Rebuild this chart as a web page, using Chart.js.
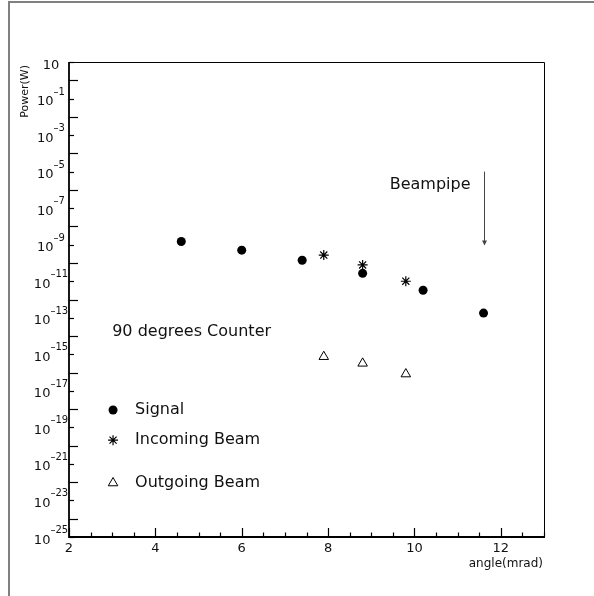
<!DOCTYPE html>
<html>
<head>
<meta charset="utf-8">
<script src="https://cdn.jsdelivr.net/npm/chart.js@4.4.1/dist/chart.umd.min.js"></script>
<style>
  html, body { margin: 0; padding: 0; background: #fff; }
  #wrap { position: relative; width: 594px; height: 596px; overflow: hidden; }
  #frame { position: absolute; left: 8px; top: 1px; width: 800px; height: 800px;
           border-left: 2px solid #808080; border-top: 2px solid #808080; }
  #c { position: absolute; left: 0; top: 0; }
</style>
</head>
<body>
<div id="wrap">
  <div id="frame"></div>
  <canvas id="c" width="594" height="596"></canvas>
</div>
<script>
// Measured power versus angle
const signalAngle   = [4.6, 6.0, 7.4, 8.8, 10.2, 11.6];
const signalPower   = [1.5e-9, 5.0e-10, 1.4e-10, 2.7e-11, 3.2e-12, 1.8e-13];
const incomingAngle = [7.9, 8.8, 9.8];
const incomingPower = [2.7e-10, 7.8e-11, 1.0e-11];
const outgoingAngle = [7.9, 8.8, 9.8];
const outgoingPower = [7.4e-16, 3.2e-16, 8.3e-17];

// Axis ranges and labels
const xMin = 2, xMax = 13;
const xLabelValues = [2, 4, 6, 8, 10, 12];
const yMinExp = -25, yMaxExp = 1;
const yLabelExps = [1, -1, -3, -5, -7, -9, -11, -13, -15, -17, -19, -21, -23, -25];

// Legend entries and notes placed in data coordinates
const legendNames = ['Signal', 'Incoming Beam', 'Outgoing Beam'];
const legendStyles = ['circle', 'star', 'triangle'];
const legendPower = [9e-19, 2e-20, 9e-23];
const legendAngle = 3.02, legendTextAngle = 3.53;
const counterNote = '90 degrees Counter';
const counterAngle = 3.0, counterPower = 1.7e-14;
const pipeNote = 'Beampipe';
const pipeAngle = 11.6, pipeTop = 1e-5, pipeTip = 9e-10, pipeNotePower = 1.9e-6;

const FONT = '"DejaVu Sans", "Liberation Sans", sans-serif';
const INK = '#111';

function pts(xs, ys) { return xs.map((x, i) => ({ x: x, y: ys[i] })); }

const markerSpec = {
  circle:   { radius: 4.5, fill: '#000', stroke: '#000', width: 0 },
  star:     { radius: 5,   fill: 'rgba(0,0,0,0)', stroke: '#000', width: 1.2 },
  triangle: { radius: 5.5, fill: 'rgba(0,0,0,0)', stroke: '#000', width: 1 }
};

function drawMarker(ctx, style, x, y) {
  const s = markerSpec[style];
  ctx.save();
  ctx.fillStyle = s.fill;
  ctx.strokeStyle = s.stroke;
  ctx.lineWidth = s.width;
  Chart.helpers.drawPoint(ctx, { pointStyle: style, radius: s.radius, borderWidth: s.width, rotation: 0 }, x, y);
  ctx.restore();
}

const pawAxes = {
  id: 'pawAxes',
  beforeDatasetsDraw(chart) {
    const { ctx, chartArea: a, scales: { x: xs, y: ys } } = chart;
    ctx.save();
    ctx.strokeStyle = '#000';
    // frame
    ctx.lineWidth = 1;
    ctx.beginPath();
    ctx.moveTo(a.left, a.top + 0.5); ctx.lineTo(a.right + 0.5, a.top + 0.5);
    ctx.lineTo(a.right + 0.5, a.bottom);
    ctx.stroke();
    ctx.lineWidth = 1.8;
    ctx.beginPath();
    ctx.moveTo(a.left, a.top); ctx.lineTo(a.left, a.bottom); ctx.lineTo(a.right + 1, a.bottom);
    ctx.stroke();

    // x ticks, every 0.5, longer at labelled values
    ctx.lineWidth = 1.2;
    for (let v = xMin; v <= xMax + 1e-9; v += 0.5) {
      const px = Math.round(xs.getPixelForValue(v)) + 0.5;
      const len = xLabelValues.includes(v) ? 9 : 4.5;
      ctx.beginPath();
      ctx.moveTo(px, a.bottom); ctx.lineTo(px, a.bottom - len);
      ctx.stroke();
    }
    // y ticks, one per decade
    for (let e = yMinExp; e <= yMaxExp; e++) {
      const py = Math.round(ys.getPixelForValue(Math.pow(10, e))) + 0.5;
      const len = (e % 2 === 0) ? 9 : 5;
      ctx.beginPath();
      ctx.moveTo(a.left, py); ctx.lineTo(a.left + len, py);
      ctx.stroke();
    }

    // x labels
    ctx.fillStyle = INK;
    ctx.font = '13px ' + FONT;
    ctx.textAlign = 'center';
    ctx.textBaseline = 'middle';
    xLabelValues.forEach(v => {
      ctx.fillText(String(v), xs.getPixelForValue(v), a.bottom + 12);
    });

    // y labels: 10 with raised exponent
    yLabelExps.forEach(e => {
      const py = ys.getPixelForValue(Math.pow(10, e));
      const base = '10';
      const sup = e === 1 ? '' : '\u2013' + Math.abs(e);
      ctx.font = '13px ' + FONT;
      const wb = ctx.measureText(base).width;
      ctx.font = '10px ' + FONT;
      const ws = sup ? ctx.measureText(sup).width : 0;
      const cx = 51;
      const x0 = cx - (wb + ws) / 2;
      ctx.textAlign = 'left';
      ctx.textBaseline = 'alphabetic';
      ctx.font = '13px ' + FONT;
      ctx.fillText(base, x0, py + 6.5);
      if (sup) {
        ctx.font = '10px ' + FONT;
        ctx.fillText(sup, x0 + wb, py - 4);
      }
    });

    // axis titles
    ctx.font = '12px ' + FONT;
    ctx.textAlign = 'right';
    ctx.textBaseline = 'middle';
    ctx.fillText('angle(mrad)', a.right - 1, a.bottom + 27);
    ctx.save();
    ctx.translate(25, a.top + 3);
    ctx.rotate(-Math.PI / 2);
    ctx.font = '11px ' + FONT;
    ctx.textAlign = 'right';
    ctx.fillText('Power(W)', 0, 0);
    ctx.restore();
    ctx.restore();
  },
  afterDatasetsDraw(chart) {
    const { ctx, scales: { x: xs, y: ys } } = chart;
    ctx.save();
    ctx.fillStyle = INK;
    ctx.font = '16px ' + FONT;
    ctx.textBaseline = 'middle';

    // note text
    ctx.textAlign = 'left';
    ctx.fillText(counterNote, xs.getPixelForValue(counterAngle), ys.getPixelForValue(counterPower));

    // beampipe arrow
    const ax = Math.round(xs.getPixelForValue(pipeAngle)) + 0.5;
    const ay0 = ys.getPixelForValue(pipeTop);
    const ay1 = ys.getPixelForValue(pipeTip);
    ctx.strokeStyle = '#444';
    ctx.fillStyle = '#444';
    ctx.lineWidth = 1;
    ctx.beginPath();
    ctx.moveTo(ax, ay0); ctx.lineTo(ax, ay1 - 3);
    ctx.stroke();
    ctx.beginPath();
    ctx.moveTo(ax - 2.5, ay1 - 5); ctx.lineTo(ax + 2.5, ay1 - 5); ctx.lineTo(ax, ay1);
    ctx.closePath();
    ctx.fill();
    ctx.fillStyle = INK;
    ctx.textAlign = 'right';
    ctx.fillText(pipeNote, ax - 14, ys.getPixelForValue(pipeNotePower));

    // legend
    ctx.textAlign = 'left';
    legendNames.forEach((name, i) => {
      const py = ys.getPixelForValue(legendPower[i]);
      drawMarker(ctx, legendStyles[i], xs.getPixelForValue(legendAngle), py);
      ctx.fillStyle = INK;
      ctx.font = '16px ' + FONT;
      ctx.fillText(name, xs.getPixelForValue(legendTextAngle), py);
    });
    ctx.restore();
  }
};

new Chart(document.getElementById('c'), {
  type: 'scatter',
  data: {
    datasets: [
      { label: 'Signal', data: pts(signalAngle, signalPower),
        pointStyle: 'circle', pointRadius: markerSpec.circle.radius,
        backgroundColor: '#000', borderColor: '#000', borderWidth: 0 },
      { label: 'Incoming Beam', data: pts(incomingAngle, incomingPower),
        pointStyle: 'star', pointRadius: markerSpec.star.radius,
        backgroundColor: 'rgba(0,0,0,0)', borderColor: '#000', borderWidth: markerSpec.star.width },
      { label: 'Outgoing Beam', data: pts(outgoingAngle, outgoingPower),
        pointStyle: 'triangle', pointRadius: markerSpec.triangle.radius,
        backgroundColor: 'rgba(0,0,0,0)', borderColor: '#000', borderWidth: markerSpec.triangle.width }
    ]
  },
  options: {
    responsive: false,
    animation: false,
    events: [],
    layout: { padding: { left: 69, top: 62, right: 50, bottom: 59 } },
    plugins: { legend: { display: false }, tooltip: { enabled: false } },
    scales: {
      x: { type: 'linear', min: xMin, max: xMax, display: false },
      y: { type: 'logarithmic', min: Math.pow(10, yMinExp), max: Math.pow(10, yMaxExp), display: false }
    }
  },
  plugins: [pawAxes]
});
</script>
</body>
</html>
